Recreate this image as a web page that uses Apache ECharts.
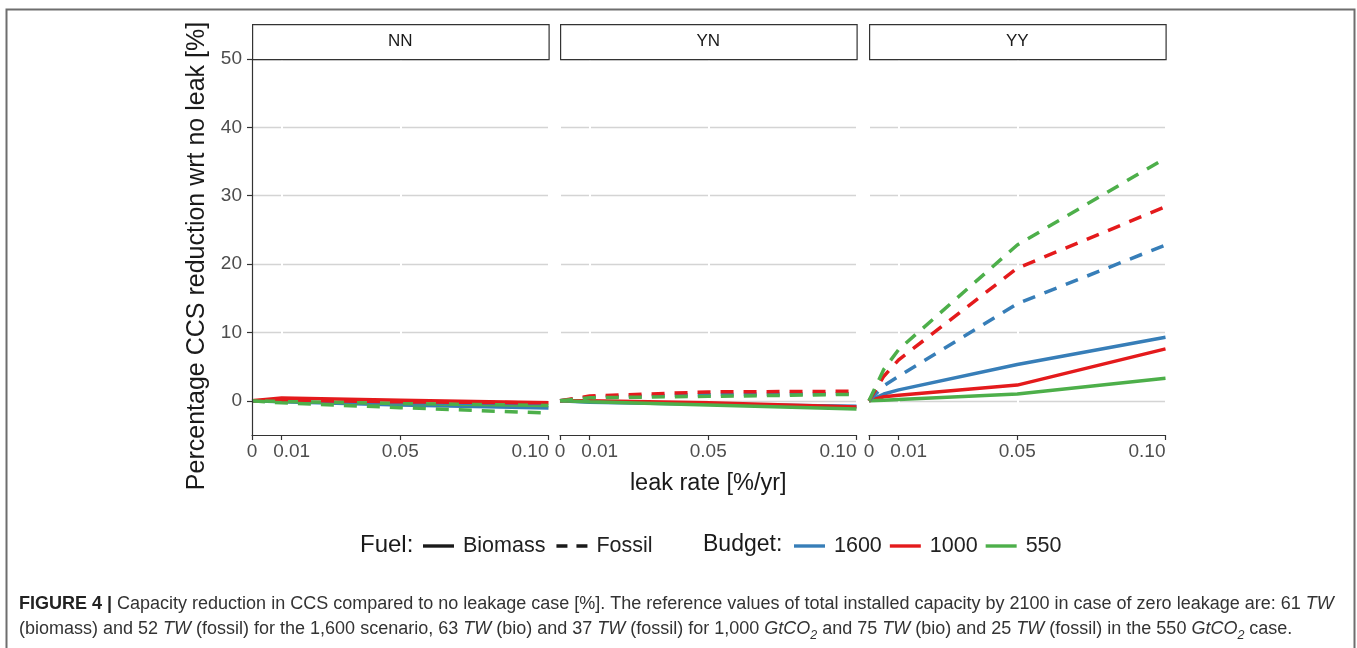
<!DOCTYPE html>
<html>
<head>
<meta charset="utf-8">
<script src="https://cdn.jsdelivr.net/npm/echarts@6/dist/echarts.min.js"></script>
<style>
html,body{margin:0;padding:0;background:#fff;}
#chart{width:1357px;height:648px;}
</style>
</head>
<body>
<div id="chart"></div>
<script>
// ---------------- data ----------------
const panels = ['NN', 'YN', 'YY'];
const budgets = ['1600', '1000', '550'];
const fuels = ['Biomass', 'Fossil'];
const leakNNYN = [0, 0.01, 0.05, 0.1];
const leakYY = [0, 0.005, 0.01, 0.05, 0.1];
const xTickValues = [0, 0.01, 0.05, 0.1];
const xTickLabels = ['0', '0.01', '0.05', '0.10'];
const yTickValues = [0, 10, 20, 30, 40, 50];

const nn_biomass_1600 = [0, -0.15, -0.6, -1.05];
const nn_biomass_1000 = [0, 0.4, 0.1, -0.3];
const nn_biomass_550  = [0, -0.1, -0.4, -0.7];
const nn_fossil_1600  = [0, -0.05, -0.3, -0.4];
const nn_fossil_1000  = [0, 0.1, -0.15, -0.3];
const nn_fossil_550   = [0, -0.3, -1.0, -1.8];

const yn_biomass_1600 = [0, -0.2, -0.5, -0.8];
const yn_biomass_1000 = [0, 0.0, -0.3, -0.9];
const yn_biomass_550  = [0, -0.15, -0.6, -1.2];
const yn_fossil_1600  = [0, 0.55, 0.9, 1.05];
const yn_fossil_1000  = [0, 0.7, 1.3, 1.4];
const yn_fossil_550   = [0, 0.45, 0.65, 0.95];

const yy_biomass_1600 = [0, 1.0, 1.6, 5.3, 9.3];
const yy_biomass_1000 = [0, 0.6, 0.8, 2.3, 7.6];
const yy_biomass_550  = [0, 0.1, 0.2, 1.0, 3.3];
const yy_fossil_1600  = [0, 2.2, 3.6, 14.2, 22.8];
const yy_fossil_1000  = [0, 3.6, 6.0, 19.4, 28.4];
const yy_fossil_550   = [0, 4.6, 7.5, 22.8, 35.5];

const panelData = {
  NN: {x: leakNNYN, Biomass: [nn_biomass_1600, nn_biomass_1000, nn_biomass_550], Fossil: [nn_fossil_1600, nn_fossil_1000, nn_fossil_550]},
  YN: {x: leakNNYN, Biomass: [yn_biomass_1600, yn_biomass_1000, yn_biomass_550], Fossil: [yn_fossil_1600, yn_fossil_1000, yn_fossil_550]},
  YY: {x: leakYY, Biomass: [yy_biomass_1600, yy_biomass_1000, yy_biomass_550], Fossil: [yy_fossil_1600, yy_fossil_1000, yy_fossil_550]}
};

// ---------------- styling / layout ----------------
const budgetColors = ['#377EB8', '#E41A1C', '#4DAF4A'];
const dash = [13, 10];
const FONT = '"Liberation Sans", Arial, Helvetica, sans-serif';
const panelLefts = [252, 560, 869];
const panelW = 296.5;
const panelTop = 59;
const panelH = 376;
const stripTop = 24;
const stripH = 35;
const iconSolid = 'path://M0,0h31v3.4h-31z';
const iconDash = 'path://M0,0h11v3.4h-11zM20,0h11v3.4h-11z';

const chart = echarts.init(document.getElementById('chart'), null, {renderer: 'canvas'});

const grids = panelLefts.map(l => ({left: l, top: panelTop, width: panelW, height: panelH}));

function labelFor(v) {
  for (let i = 0; i < xTickValues.length; i++) {
    if (Math.abs(v - xTickValues[i]) < 1e-9) {
      return i === 1 ? '{s|' + xTickLabels[i] + '}' : xTickLabels[i];
    }
  }
  return '';
}

const xAxes = panelLefts.map((l, i) => ({
  type: 'value', gridIndex: i, min: 0, max: 0.1, z: 1,
  axisLine: {show: true, onZero: false, lineStyle: {color: '#333', width: 1.2}},
  axisTick: {show: true, length: 5, customValues: xTickValues, lineStyle: {color: '#333', width: 1.2}},
  axisLabel: {
    customValues: xTickValues, formatter: labelFor, color: '#4d4d4d', fontSize: 19, fontFamily: FONT,
    margin: 7, alignMaxLabel: 'right', hideOverlap: false,
    rich: {s: {fontSize: 19, color: '#4d4d4d', fontFamily: FONT, padding: [0, 0, 0, 20]}}
  },
  splitLine: {show: true, lineStyle: {color: '#ffffff', width: 2}},
  name: i === 1 ? 'leak rate [%/yr]' : '',
  nameLocation: 'middle', nameGap: 37,
  nameTextStyle: {fontSize: 23.5, color: '#1a1a1a', fontFamily: FONT}
}));

const yAxes = [];
panelLefts.forEach((l, i) => {
  yAxes.push({
    type: 'value', gridIndex: i, min: -5, max: 50, z: 0,
    axisLine: {show: false},
    splitLine: {show: true, lineStyle: {color: '#d4d4d4', width: 1.4}},
    axisTick: {show: false, customValues: yTickValues},
    axisLabel: {show: false, customValues: yTickValues}
  });
});
// axis line + labels for the first panel, drawn above the white vertical grid
yAxes.push({
  type: 'value', gridIndex: 0, min: -5, max: 50, z: 3, position: 'left',
  axisLine: {show: true, onZero: false, lineStyle: {color: '#333', width: 1.2}},
  axisTick: {show: true, length: 5, customValues: yTickValues, lineStyle: {color: '#333', width: 1.2}},
  axisLabel: {customValues: yTickValues, color: '#4d4d4d', fontSize: 19, fontFamily: FONT, margin: 10},
  splitLine: {show: false},
  name: 'Percentage CCS reduction wrt no leak [%]',
  nameLocation: 'middle', nameGap: 42,
  nameTextStyle: {fontSize: 25, color: '#1a1a1a', fontFamily: FONT, padding: [0, 18, 0, 0]}
});

const series = [];
panels.forEach((p, pi) => {
  const d = panelData[p];
  fuels.forEach(f => {
    d[f].forEach((vals, bi) => {
      series.push({
        type: 'line', name: budgets[bi], xAxisIndex: pi, yAxisIndex: pi,
        data: d.x.map((x, k) => [x, vals[k]]),
        symbol: 'none', smooth: false, silent: true,
        lineStyle: {color: budgetColors[bi], width: 3.5, type: f === 'Fossil' ? dash : 'solid', cap: 'butt'},
        itemStyle: {color: budgetColors[bi]},
        z: 2
      });
    });
  });
});
// legend-only series for the fuel key
series.push({type: 'line', name: 'Biomass', data: [], symbol: 'none', xAxisIndex: 0, yAxisIndex: 0,
  lineStyle: {color: '#1a1a1a', width: 3}, itemStyle: {color: '#1a1a1a'}});
series.push({type: 'line', name: 'Fossil', data: [], symbol: 'none', xAxisIndex: 0, yAxisIndex: 0,
  lineStyle: {color: '#1a1a1a', width: 3, type: dash}, itemStyle: {color: '#1a1a1a'}});

const legendText = {fontSize: 21.5, color: '#222', fontFamily: FONT, padding: [0, 0, 0, 4]};

const graphics = [];
// outer frame
graphics.push({type: 'rect', left: 4, top: 7, shape: {width: 1348, height: 700},
  style: {fill: 'none', stroke: '#6e6e6e', lineWidth: 2}, silent: true});
// facet strips
panels.forEach((p, i) => {
  graphics.push({type: 'rect', left: panelLefts[i], top: stripTop,
    shape: {width: panelW, height: stripH},
    style: {fill: '#ffffff', stroke: '#333333', lineWidth: 1.2}, silent: true, z: 10});
  graphics.push({type: 'text', x: panelLefts[i] + panelW / 2, y: stripTop + stripH / 2,
    style: {text: p, fill: '#1a1a1a', fontSize: 17, fontFamily: FONT, textAlign: 'center', textVerticalAlign: 'middle'},
    silent: true, z: 11});
});
// legend titles
graphics.push({type: 'text', x: 360, y: 545, style: {text: 'Fuel:', fill: '#1a1a1a', fontSize: 24, fontFamily: FONT, textVerticalAlign: 'middle'}});
graphics.push({type: 'text', x: 703, y: 545, style: {text: 'Budget:', fill: '#1a1a1a', fontSize: 23, fontFamily: FONT, textVerticalAlign: 'middle'}});

// caption
const CAP = 18;
const capRich = {
  b: {fontWeight: 'bold', fontSize: CAP, fill: '#222', fontFamily: FONT},
  n: {fontSize: CAP, fill: '#333', fontFamily: FONT},
  i: {fontStyle: 'italic', fontSize: CAP, fill: '#333', fontFamily: FONT},
  s: {fontStyle: 'italic', fontSize: 12.5, fill: '#333', fontFamily: FONT, verticalAlign: 'bottom', lineHeight: 26, padding: [9, 0, 0, 0]}
};
graphics.push({type: 'text', x: 19, y: 604, silent: true, style: {
  text: '{b|FIGURE 4 |}{n| Capacity reduction in CCS compared to no leakage case [%]. The reference values of total installed capacity by 2100 in case of zero leakage are: 61 }{i|TW}',
  rich: capRich, textVerticalAlign: 'middle'}});
graphics.push({type: 'text', x: 19, y: 629, silent: true, style: {
  text: '{n|(biomass) and 52 }{i|TW}{n| (fossil) for the 1,600 scenario, 63 }{i|TW}{n| (bio) and 37 }{i|TW}{n| (fossil) for 1,000 }{i|GtCO}{s|2}{n| and 75 }{i|TW}{n| (bio) and 25 }{i|TW}{n| (fossil) in the 550 }{i|GtCO}{s|2}{n| case.}',
  rich: capRich, textVerticalAlign: 'middle'}});

chart.setOption({
  animation: false,
  backgroundColor: '#ffffff',
  textStyle: {fontFamily: FONT},
  grid: grids,
  xAxis: xAxes,
  yAxis: yAxes,
  legend: [
    {data: [{name: 'Biomass', icon: iconSolid}, {name: 'Fossil', icon: iconDash}],
     left: 423, top: 535, padding: 0, itemWidth: 31, itemHeight: 3.4, itemGap: 11, selectedMode: false, textStyle: legendText},
    {data: budgets.map(b => ({name: b, icon: iconSolid})),
     left: 794, top: 535, padding: 0, itemWidth: 31, itemHeight: 3.4, itemGap: 8, selectedMode: false, textStyle: legendText}
  ],
  series: series,
  graphic: graphics
});
</script>
</body>
</html>
